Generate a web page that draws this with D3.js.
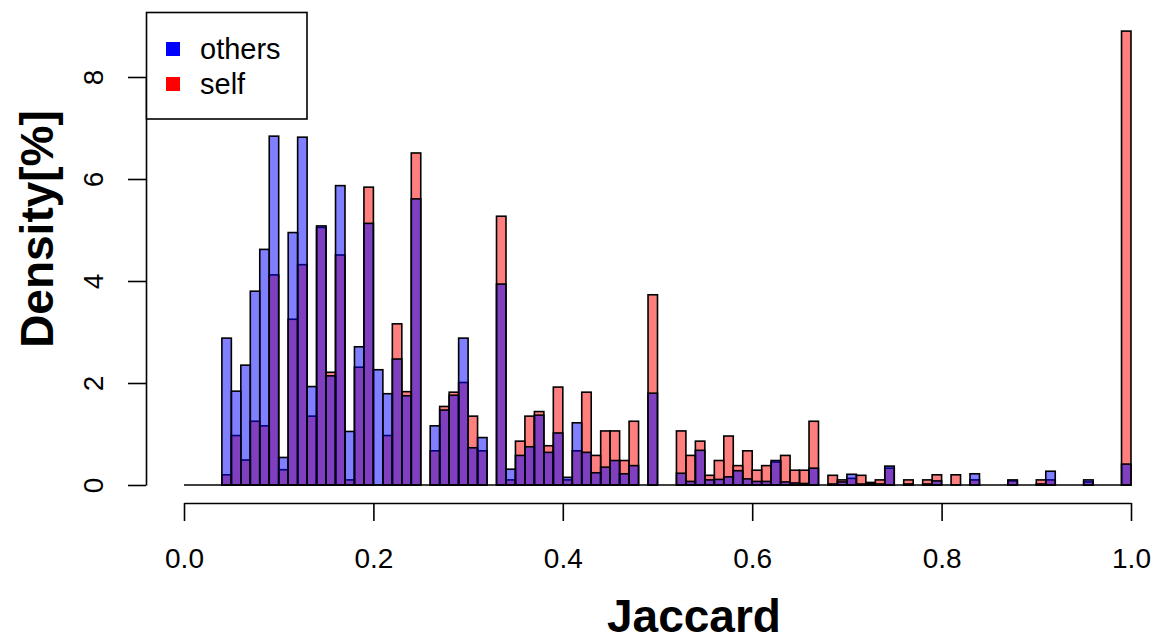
<!DOCTYPE html>
<meta charset="utf-8">
<script src="https://d3js.org/d3.v7.min.js"></script>
<style>
  body { margin: 0; background: #fff; }
  text { font-family: "Liberation Sans", Arial, Helvetica, sans-serif; }
</style>
<div id="my_dataviz"></div>
<script>

// histogram breaks: 0.00, 0.01, ... 1.00 (100 bins)
const binWidth = 0.01;
const binStarts = d3.range(100).map(i => +(i * binWidth).toFixed(2));

// density [%] per bin
const others = [
  0, 0, 0, 0, 2.88, 1.84, 2.35, 3.80, 4.62, 6.84,
  0.54, 4.95, 6.82, 1.93, 5.08, 2.14, 5.87, 1.05, 2.71, 5.13,
  2.26, 1.79, 2.47, 1.75, 5.61, 0, 1.16, 1.47, 1.76, 2.88,
  0.73, 0.93, 0, 3.94, 0.31, 0.58, 0.75, 1.37, 0.64, 1.02,
  0.15, 1.22, 0.64, 0.24, 0.35, 0.48, 0.22, 0.38, 0, 1.80,
  0, 0, 0.23, 0.07, 0.68, 0.10, 0.11, 0.16, 0.28, 0.12,
  0.07, 0.07, 0.48, 0.06, 0.04, 0.03, 0.33, 0, 0.02, 0.06,
  0.21, 0.02, 0.03, 0.02, 0.37, 0, 0.02, 0, 0.02, 0.08,
  0, 0, 0, 0.22, 0, 0, 0, 0.10, 0, 0,
  0.02, 0.27, 0, 0, 0, 0.10, 0, 0, 0, 0.41
];
const self = [
  0, 0, 0, 0, 0.20, 0.97, 0.49, 1.25, 1.16, 4.12,
  0.30, 3.25, 4.32, 1.35, 5.05, 2.21, 4.51, 0.10, 2.31, 5.84,
  0, 0.97, 3.16, 1.83, 6.51, 0, 0.67, 1.54, 1.82, 2.01,
  1.35, 0.67, 0, 5.27, 0.10, 0.86, 1.35, 1.44, 0.77, 1.92,
  0.10, 0.67, 1.82, 0.58, 1.06, 1.06, 0.48, 1.25, 0, 3.73,
  0, 0, 1.06, 0.58, 0.86, 0.19, 0.48, 0.96, 0.38, 0.67,
  0.29, 0.38, 0.45, 0.58, 0.29, 0.29, 1.25, 0, 0.19, 0.10,
  0.13, 0.19, 0.05, 0.10, 0.33, 0, 0.10, 0, 0.10, 0.20,
  0, 0.20, 0, 0.10, 0, 0, 0, 0.08, 0, 0,
  0.10, 0.10, 0, 0, 0, 0.06, 0, 0, 0, 8.90
];

const xTicks = [0, 0.2, 0.4, 0.6, 0.8, 1.0];
const yTicks = [0, 2, 4, 6, 8];
const legendLabels = ["others", "self"];

const W = 1155, H = 643;
const fontTick = 28, fontTitle = 46;

const svg = d3.select("#my_dataviz")
  .append("svg")
  .attr("width", W)
  .attr("height", H);

const x = d3.scaleLinear().domain([0, 1]).range([184, 1131]);
const y = d3.scaleLinear().domain([0, 8]).range([485, 77]);

// self first, others drawn over it (semi-transparent)
const series = [
  {values: self, fill: "rgba(255,0,0,0.5)"},
  {values: others, fill: "rgba(0,0,255,0.5)"}
];

series.forEach(s => {
  svg.append("g")
    .selectAll("rect")
    .data(binStarts.map((b, i) => [b, s.values[i]]).filter(d => d[1] > 0))
    .join("rect")
    .attr("x", d => x(d[0]))
    .attr("width", d => x(d[0] + binWidth) - x(d[0]))
    .attr("y", d => y(d[1]))
    .attr("height", d => y(0) - y(d[1]))
    .attr("fill", s.fill)
    .attr("stroke", "#000")
    .attr("stroke-width", 1.6);
});

// zero-height bins appear as the baseline
svg.append("line")
  .attr("x1", x(0)).attr("x2", x(1))
  .attr("y1", y(0)).attr("y2", y(0))
  .attr("stroke", "#000")
  .attr("stroke-width", 1.6);

// x axis
const gx = svg.append("g")
  .attr("transform", "translate(0,503)")
  .call(d3.axisBottom(x).tickValues(xTicks).tickFormat(d3.format(".1f"))
    .tickSize(18).tickSizeOuter(0));
gx.selectAll("path, line").attr("stroke", "#000").attr("stroke-width", 1.6);
gx.selectAll("text")
  .attr("y", 65).attr("dy", 0)
  .attr("fill", "#000")
  .style("font-size", fontTick + "px")
  .style("font-family", "'Liberation Sans', Arial, sans-serif");

// y axis
const gy = svg.append("g")
  .attr("transform", "translate(146,0)")
  .call(d3.axisLeft(y).tickValues(yTicks).tickFormat(d3.format("d"))
    .tickSize(18).tickSizeOuter(0));
gy.selectAll("path, line").attr("stroke", "#000").attr("stroke-width", 1.6);
gy.selectAll("text")
  .attr("x", null).attr("dy", 0)
  .attr("transform", "translate(-43,0) rotate(-90)")
  .attr("text-anchor", "middle")
  .attr("fill", "#000")
  .style("font-size", fontTick + "px")
  .style("font-family", "'Liberation Sans', Arial, sans-serif");

// axis titles
svg.append("text")
  .attr("transform", "translate(53,229) rotate(-90)")
  .attr("text-anchor", "middle")
  .style("font-size", fontTitle + "px")
  .style("font-weight", "bold")
  .text("Density[%]");

svg.append("text")
  .attr("x", 694).attr("y", 632)
  .attr("text-anchor", "middle")
  .style("font-size", fontTitle + "px")
  .style("font-weight", "bold")
  .text("Jaccard");

// legend
const legend = svg.append("g");
legend.append("rect")
  .attr("x", 146.5).attr("y", 12.5)
  .attr("width", 160.5).attr("height", 106.5)
  .attr("fill", "#fff")
  .attr("stroke", "#000")
  .attr("stroke-width", 1.6);

const legendColors = ["#0000ff", "#ff0000"];
legendLabels.forEach((lab, i) => {
  legend.append("rect")
    .attr("x", 166).attr("y", 42 + i * 35)
    .attr("width", 14).attr("height", 14)
    .attr("fill", legendColors[i]);
  legend.append("text")
    .attr("x", 200).attr("y", 59 + i * 35)
    .style("font-size", "29px")
    .text(lab);
});

</script>
